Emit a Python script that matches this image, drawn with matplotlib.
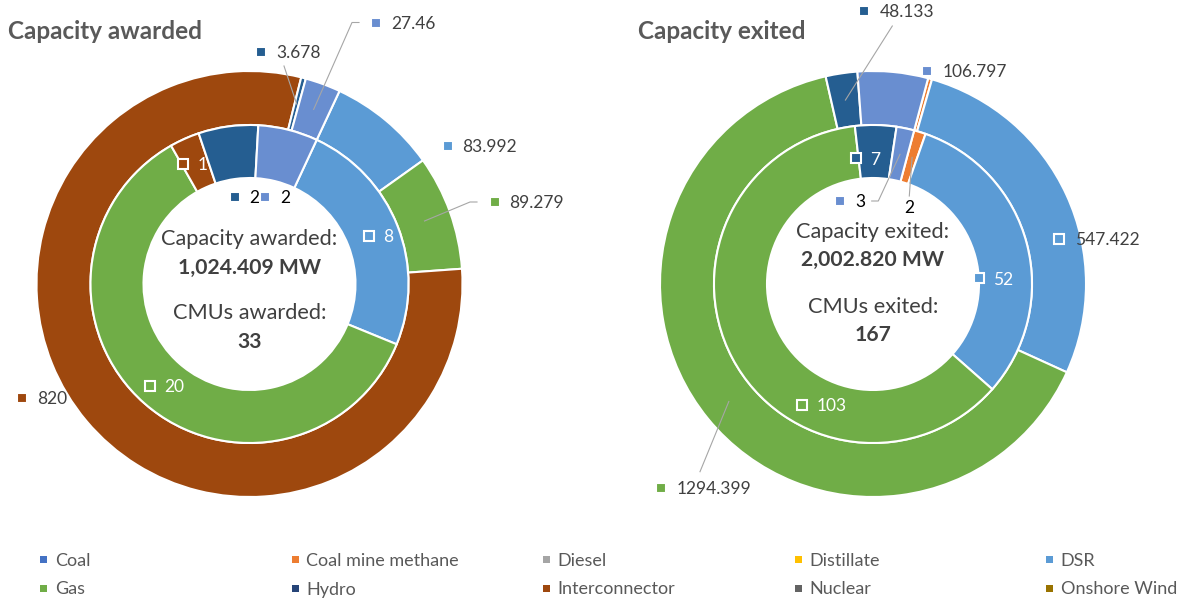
import numpy as np
import matplotlib
matplotlib.use("Agg")
import matplotlib.pyplot as plt

plt.rcParams['font.family'] = ['Lato', 'DejaVu Sans']

# ---------------- data ----------------
categories = ["Coal", "Coal mine methane", "Diesel", "Distillate", "DSR", "Gas",
              "Hydro", "Interconnector", "Nuclear", "Onshore Wind",
              "Solar", "Storage", "Other"]
awarded_capacity = [0, 0, 0, 0, 83.992, 89.279, 0, 820, 0, 0, 3.678, 0, 27.46]
awarded_cmus = [0, 0, 0, 0, 8, 20, 0, 1, 0, 0, 2, 0, 2]
exited_capacity = [0, 6.069, 0, 0, 547.422, 1294.399, 0, 0, 0, 0, 48.133, 0, 106.797]
exited_cmus = [0, 2, 0, 0, 52, 103, 0, 0, 0, 0, 7, 0, 3]
awarded_total_mw = "1,024.409 MW"
awarded_total_cmus = "33"
exited_total_mw = "2,002.820 MW"
exited_total_cmus = "167"

# ---------------- style ----------------
colors = ["#4472C4", "#ED7D31", "#A5A5A5", "#FFC000", "#5B9BD5", "#70AD47",
          "#264478", "#9E480E", "#636363", "#997300", "#255E91", "#43682B", "#698ED0"]
W, H = 1186, 598
R_OUT, R_MID, R_HOLE = 213, 159, 106
DARK = "#404040"
TITLE_C = "#595959"
LEADER_C = "#A6A6A6"

fig = plt.figure(figsize=(W / 100, H / 100), dpi=100)
ax = fig.add_axes([0, 0, 1, 1])


def vy(y):
    return H - y


def txt(x, y, s, size, color, weight="normal", ha="left"):
    # y is the visual centre of the glyphs (pixel coords from top)
    px = size * 100 / 72
    ax.text(x, vy(y + 0.36 * px), s, fontsize=size, color=color,
            fontweight=weight, ha=ha, va="baseline")


def key(x, y, c, ms=9.5, mew=1.5):
    ax.plot([x], [vy(y)], marker="s", ms=ms * 0.72, mfc=c, mec="white",
            mew=mew, ls="none", zorder=5)


def ring(values, cx, cy, r_out, r_in, start):
    vals = np.array(values, dtype=float)
    keep = vals > 0
    ax.pie(vals[keep], colors=np.array(colors)[keep], radius=r_out,
           center=(cx, vy(cy)), startangle=90 - start, counterclock=False,
           wedgeprops=dict(width=r_out - r_in, edgecolor="white", linewidth=1.5))
    cum = np.cumsum(vals)
    mids = start + (cum - vals / 2) / vals.sum() * 360.0
    return mids


def leader(points, cx, cy, r, ang):
    a = np.deg2rad(ang)
    ex, ey = cx + r * np.sin(a), cy - r * np.cos(a)
    xs = [p[0] for p in points] + [ex]
    ys = [vy(p[1]) for p in points] + [vy(ey)]
    ax.plot(xs, ys, color=LEADER_C, lw=0.8, zorder=4)


LBL = 12.5


def draw_chart(cx, cy, start, cap, cmus, title, title_x, center_lines,
               outer_labels, inner_labels):
    mo = ring(cap, cx, cy, R_OUT, R_MID, start)
    mi = ring(cmus, cx, cy, R_MID, R_HOLE, start)
    txt(title_x, 30, title, 17.5, TITLE_C, weight="bold")
    for (s, y, w) in center_lines:
        txt(cx, y, s, 15.7 if w == "normal" else 15.2, DARK, weight=w, ha="center")
    for lab in outer_labels:
        i = lab["cat"]
        if lab.get("key", True):
            key(lab["kx"], lab["y"], colors[i])
        txt(lab["tx"], lab["y"], lab["text"], LBL, lab.get("color", DARK),
            ha=lab.get("ha", "left"))
        if "lead" in lab:
            leader(lab["lead"], cx, cy, (R_OUT + R_MID) / 2, mo[i])
    for lab in inner_labels:
        i = lab["cat"]
        if lab.get("key", True):
            key(lab["kx"], lab["y"], colors[i])
        txt(lab["tx"], lab["y"], lab["text"], LBL, lab.get("color", DARK),
            ha=lab.get("ha", "left"))
        if "lead" in lab:
            leader(lab["lead"], cx, cy, (R_MID + R_HOLE) / 2, mi[i])


def fmt(v):
    return str(v)


# ---- left: capacity awarded ----
A = awarded_capacity
C = awarded_cmus
draw_chart(
    249.5, 284, 25, A, C, "Capacity awarded", 8,
    [("Capacity awarded:", 237, "normal"), (awarded_total_mw, 266, "bold"),
     ("CMUs awarded:", 311, "normal"), (awarded_total_cmus, 340, "bold")],
    [dict(cat=10, text=fmt(A[10]), kx=261, tx=276, y=52, lead=[(284, 66)]),
     dict(cat=12, text=fmt(A[12]), kx=376, tx=391.5, y=22.5, lead=[(359, 22.5), (352, 22.5)]),
     dict(cat=4, text=fmt(A[4]), kx=447.5, tx=462.5, y=146),
     dict(cat=5, text=fmt(A[5]), kx=494.5, tx=509.5, y=202, lead=[(477, 202), (470, 202)]),
     dict(cat=7, text=fmt(A[7]), kx=22, tx=37, y=398)],
    [dict(cat=7, text=fmt(C[7]), kx=182.7, tx=197.5, y=164, color="white"),
     dict(cat=10, text=fmt(C[10]), kx=235, tx=249.5, y=196.5, color="black"),
     dict(cat=12, text=fmt(C[12]), kx=265.3, tx=280, y=196.5, color="black"),
     dict(cat=4, text=fmt(C[4]), kx=368.7, tx=383, y=236, color="white"),
     dict(cat=5, text=fmt(C[5]), kx=150, tx=164.5, y=386, color="white")],
)

# ---- right: capacity exited ----
E = exited_capacity
D = exited_cmus
draw_chart(
    873, 284, 15, E, D, "Capacity exited", 638,
    [("Capacity exited:", 230, "normal"), (exited_total_mw, 258, "bold"),
     ("CMUs exited:", 305, "normal"), (exited_total_cmus, 333, "bold")],
    [dict(cat=10, text=fmt(E[10]), kx=864.3, tx=879.3, y=11, lead=[(892.3, 26)]),
     dict(cat=12, text=fmt(E[12]), kx=926.7, tx=942.7, y=71),
     dict(cat=4, text=fmt(E[4]), kx=1059.3, tx=1075, y=239),
     dict(cat=5, text=fmt(E[5]), kx=661, tx=676.7, y=487.5, lead=[(700, 471.7)])],
    [dict(cat=10, text=fmt(D[10]), kx=856, tx=870.5, y=158.3, color="white"),
     dict(cat=12, text=fmt(D[12]), kx=840, tx=855.5, y=201, color="black",
          lead=[(871.7, 201), (878.3, 201)]),
     dict(cat=1, text=fmt(D[1]), kx=0, tx=909.3, y=207, color="black", ha="center",
          key=False, lead=[(909.3, 196)]),
     dict(cat=4, text=fmt(D[4]), kx=978.7, tx=993.3, y=278.3, color="white"),
     dict(cat=5, text=fmt(D[5]), kx=801.7, tx=816.7, y=405, color="white")],
)

# ---- legend (first ten categories shown) ----
col_x = [43.3, 294.7, 546.0, 797.7, 1049.3]
row_y = [559, 588]
for k in range(10):
    r, c = divmod(k, 5)
    key(col_x[c], row_y[r], colors[k], ms=7, mew=0)
    txt(col_x[c] + 11.5, row_y[r], categories[k], 13.0, TITLE_C)

ax.set_xlim(0, W)
ax.set_ylim(0, H)
ax.set_aspect("equal", adjustable="box")
ax.axis("off")
fig.savefig("out.png", dpi=100, facecolor="white")
